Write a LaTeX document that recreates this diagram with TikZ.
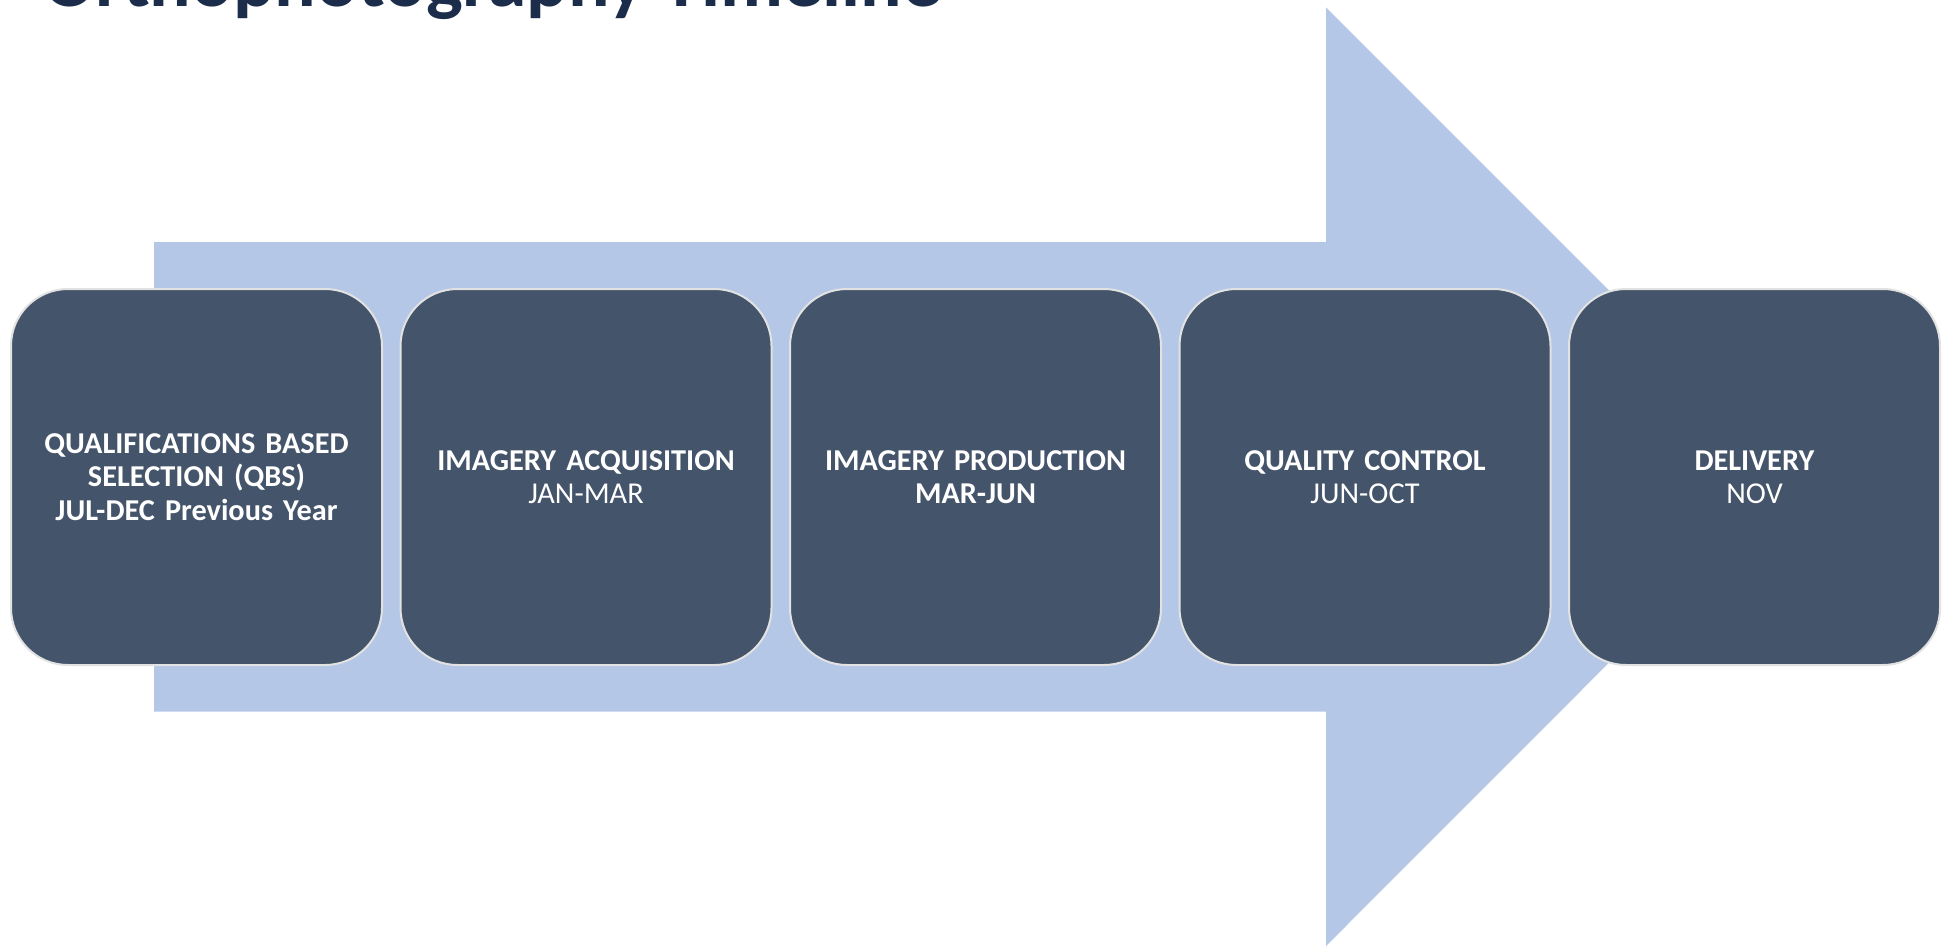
\documentclass[tikz,border=0pt]{standalone}
\usepackage{fontspec}
\setmainfont{Carlito}
\definecolor{arrowblue}{HTML}{B4C7E7}
\definecolor{boxfill}{HTML}{44546A}
\definecolor{boxline}{HTML}{E2E2E2}
\definecolor{titlecol}{HTML}{1B2D4A}
\begin{document}
\begin{tikzpicture}[x=1pt,y=-1pt,
  stage/.style={draw=boxline, line width=2pt, fill=boxfill, rounded corners=57pt,
    minimum width=371pt, minimum height=376pt, inner sep=0pt, outer sep=0pt,
    text=white, text width=360pt, align=center,
    font=\fontsize{30.3}{33.4}\selectfont}]
\useasboundingbox (0,0) rectangle (1947,947);
\clip (0,0) rectangle (1947,947);
\fill[white] (0,0) rectangle (1947,947);
\node[anchor=base west, inner sep=0pt, text=titlecol,
  font=\fontsize{77.5}{90}\selectfont\bfseries] (title) at (43,6.5) {Orthophotography Timeline};
\fill[arrowblue] (154,242) -- (1326,242) -- (1326,7.5) -- (1795,476.5)
  -- (1326,946) -- (1326,711.5) -- (154,711.5) -- cycle;
\node[stage] (s1) at (196.5,477) {\textbf{QUALIFICATIONS BASED}\\\textbf{SELECTION (QBS)}\\\textbf{JUL-DEC Previous Year}};
\node[stage] (s2) at (586,477) {\textbf{IMAGERY ACQUISITION}\\JAN-MAR};
\node[stage] (s3) at (975.5,477) {\textbf{IMAGERY PRODUCTION}\\\textbf{MAR-JUN}};
\node[stage] (s4) at (1365,477) {\textbf{QUALITY CONTROL}\\JUN-OCT};
\node[stage] (s5) at (1754.5,477) {\textbf{DELIVERY}\\NOV};
\end{tikzpicture}
\end{document}
